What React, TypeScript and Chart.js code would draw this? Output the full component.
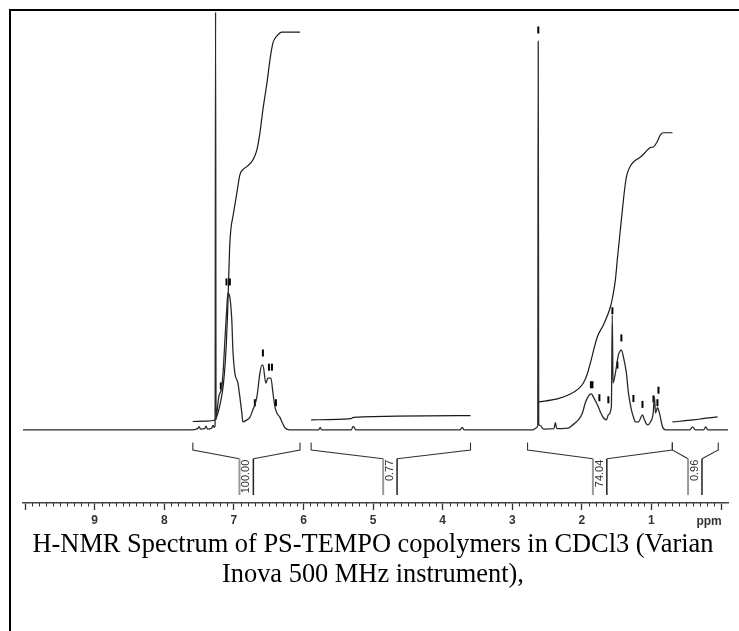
import React, { useEffect, useRef } from "react";
import { Chart, registerables } from "chart.js";

Chart.register(...registerables);

// ---- data (ppm, intensity in arbitrary units) ----
const spectrumPpm = [
  10.03, 7.62, 7.52, 7.5, 7.48, 7.42, 7.4, 7.38, 7.32, 7.3, 7.285, 7.27, 7.263, 7.256, 7.245, 7.216, 7.173, 7.15,
  7.129, 7.101, 7.086, 7.058, 7.029, 7.014, 6.986, 6.942, 6.915, 6.885, 6.871, 6.813, 6.77, 6.727, 6.669, 6.626,
  6.597, 6.583, 6.54, 6.511, 6.468, 6.439, 6.41, 6.381, 6.338, 6.309, 6.266, 6.2, 5.78, 5.76, 5.74, 5.31, 5.29,
  5.27, 5.25, 3.75, 3.72, 3.69, 2.7, 2.66, 2.634, 2.627, 2.62, 2.597, 2.55, 2.4, 2.381, 2.36, 2.2, 2.13, 2.094,
  2.05, 1.993, 1.95, 1.906, 1.863, 1.835, 1.777, 1.734, 1.691, 1.647, 1.619, 1.576, 1.563, 1.552, 1.518, 1.475,
  1.432, 1.403, 1.36, 1.331, 1.288, 1.259, 1.23, 1.187, 1.129, 1.101, 1.058, 1.014, 0.975, 0.957, 0.942, 0.914,
  0.885, 0.842, 0.799, 0.45, 0.41, 0.37, 0.25, 0.22, 0.19, -0.1,
];
const spectrumIntensity = [
  0, 0, 0.3, 0.8, 0.2, 0.3, 0.9, 0.2, 0.4, 1.1, 0.6, 1.0, 100, 2.5, 4, 8, 10.3, 15,
  21.5, 29.4, 32.8, 31.8, 26, 19, 13.6, 11.2, 8, 4, 1.9, 2.4, 3, 4.8, 7.9, 13.6,
  15.5, 15.5, 11.2, 12.4, 12.4, 8.9, 5.5, 4, 3, 1.9, 0.5, 0, 0, 0.6, 0, 0, 0.8,
  0.6, 0, 0, 0.6, 0, 0, 0.4, 1, 93, 1.5, 1.0, 0.2, 0.3, 1.7, 0.3, 0.4, 1.2, 1.7,
  2.4, 4, 6.5, 8.1, 8.6, 7.9, 6, 4.3, 2.9, 2.4, 3.6, 5.5, 27.5, 11.2, 13.6, 17.9,
  19.1, 17.5, 13.6, 8.9, 4.8, 3.1, 1.9, 1.9, 3.6, 2.4, 1.2, 1.9, 4, 7.9, 4, 5.3,
  4, 0.8, 0, 0, 0.7, 0, 0, 0.7, 0, 0,
];

const integral1Ppm = [7.59, 7.4, 7.28, 7.25, 7.2, 7.15, 7.11, 7.09, 7.075, 7.06, 7.04, 7.014, 6.957, 6.914, 6.87, 6.813, 6.727, 6.669, 6.626, 6.583, 6.525, 6.482, 6.439, 6.381, 6.309, 6.05];
const integral1Values = [2.0, 2.1, 2.3, 3, 6, 11, 20, 28, 36, 44, 48.5, 51, 56.7, 61, 62.3, 63, 64.6, 67, 71, 76.6, 83, 88.5, 92.6, 94.3, 95.2, 95.2];
const integral2Ppm = [5.89, 5.32, 5.28, 3.6];
const integral2Values = [2.4, 2.7, 3.0, 3.4];
const integral3Ppm = [2.626, 2.353, 2.165, 2.05, 1.978, 1.92, 1.878, 1.777, 1.691, 1.59, 1.561, 1.518, 1.489, 1.446, 1.403, 1.37, 1.345, 1.3, 1.259, 1.158, 1.1, 1.058, 1.01, 0.971, 0.92, 0.871, 0.827, 0.698];
const integral3Values = [6.7, 7.4, 8.6, 9.8, 11.2, 13.5, 16, 22.3, 25.1, 29.4, 31.5, 35.9, 41, 48, 55, 59.5, 61.5, 63.2, 64.1, 65.3, 66.2, 67, 67.6, 67.7, 68.9, 70.6, 71.1, 71.1];
const integral4Ppm = [0.698, 0.4, 0.3, 0.22, 0.05];
const integral4Values = [1.9, 2.4, 2.6, 2.8, 3.1];

const peakPickPpm = [7.187, 7.106, 7.058, 6.698, 6.583, 6.496, 6.453, 6.396, 2.626, 1.87, 1.848, 1.748, 1.619, 1.561, 1.489, 1.432, 1.259, 1.129, 0.971, 0.914, 0.899];
const peakPickLevel = [10.5, 35.4, 35.4, 6.5, 18.4, 15, 15, 6.5, 95.7, 10.8, 10.8, 7.7, 7.2, 28.5, 15.5, 22, 7.5, 6.1, 7.4, 6.5, 9.5];

const integralFrom = [7.59, 5.89, 2.78, 0.7];
const integralTo = [6.05, 3.6, 0.7, 0.04];
const integralCenter = [6.82, 4.755, 1.741, 0.374];
const integralLabels = ["100.00", "0.77", "74.04", "0.96"];

const majorTicks = [0, 1, 2, 3, 4, 5, 6, 7, 8, 9, 10];
const tickLabels = ["", "1", "2", "3", "4", "5", "6", "7", "8", "9", ""];
const unitLabel = "ppm";
const minorStep = 0.1;

const xMin = -0.1;
const xMax = 10.03;
const yMin = -17.5;
const yMax = 100;

const toPoints = (xs: number[], ys: number[]) => xs.map((x, i) => ({ x, y: ys[i] }));

const extrasPlugin = {
  id: "nmrExtras",
  afterDraw(chart: any) {
    const { ctx, chartArea } = chart;
    const xs = chart.scales.x;
    const ys = chart.scales.y;
    const axisY = chartArea.bottom;
    ctx.save();
    // minor ticks
    ctx.strokeStyle = "#333";
    ctx.lineWidth = 1;
    ctx.beginPath();
    for (let k = 0; k <= Math.round(xMax / minorStep); k++) {
      if (k % 10 === 0) continue;
      const px = Math.round(xs.getPixelForValue(k * minorStep)) + 0.5;
      ctx.moveTo(px, axisY);
      ctx.lineTo(px, axisY + 3.5);
    }
    ctx.stroke();

    // unit label
    ctx.fillStyle = "#333";
    ctx.font = "bold 12px 'Liberation Sans', Arial, sans-serif";
    ctx.textAlign = "center";
    ctx.textBaseline = "middle";
    ctx.fillText(unitLabel, xs.getPixelForValue(0) - 12, axisY + 19);

    // integration brackets
    const yTickTop = ys.getPixelForValue(-3.0);
    const yTickBot = ys.getPixelForValue(-4.8);
    const yArm = ys.getPixelForValue(-6.9);
    const yBottom = ys.getPixelForValue(-15.6);
    integralFrom.forEach((from, i) => {
      const xL = xs.getPixelForValue(from);
      const xR = xs.getPixelForValue(integralTo[i]);
      const xG = xs.getPixelForValue(integralCenter[i] + 0.1);
      const xB = xs.getPixelForValue(integralCenter[i] - 0.1);
      ctx.strokeStyle = "#333";
      ctx.lineWidth = 1.1;
      ctx.beginPath();
      ctx.moveTo(xL, yTickTop);
      ctx.lineTo(xL, yTickBot);
      ctx.lineTo(xG, yArm);
      ctx.moveTo(xB, yArm);
      ctx.lineTo(xR, yTickBot);
      ctx.lineTo(xR, yTickTop);
      ctx.stroke();
      ctx.strokeStyle = "#9a9a9a";
      ctx.lineWidth = 2;
      ctx.beginPath();
      ctx.moveTo(xG, yArm);
      ctx.lineTo(xG, yBottom);
      ctx.stroke();
      ctx.strokeStyle = "#222";
      ctx.lineWidth = 1.5;
      ctx.beginPath();
      ctx.moveTo(xB, yArm);
      ctx.lineTo(xB, yBottom);
      ctx.stroke();
      ctx.save();
      ctx.translate((xG + xB) / 2, yArm + 1);
      ctx.rotate(-Math.PI / 2);
      ctx.fillStyle = "#333";
      ctx.font = "11px 'Liberation Sans', Arial, sans-serif";
      ctx.textAlign = "right";
      ctx.textBaseline = "middle";
      ctx.fillText(integralLabels[i], 0, 0);
      ctx.restore();
    });
    ctx.restore();
  },
};

export default function App() {
  const ref = useRef<HTMLCanvasElement>(null);
  useEffect(() => {
    const integralStyle = {
      borderColor: "#1a1a1a",
      borderWidth: 1.2,
      pointRadius: 0,
      fill: false,
      cubicInterpolationMode: "monotone" as const,
    };
    const chart = new Chart(ref.current as HTMLCanvasElement, {
      type: "line",
      data: {
        datasets: [
          {
            label: "spectrum",
            data: toPoints(spectrumPpm, spectrumIntensity),
            borderColor: "#2a2a2a",
            borderWidth: 1.3,
            pointRadius: 0,
            fill: false,
            cubicInterpolationMode: "monotone",
          },
          { label: "integral 1", data: toPoints(integral1Ppm, integral1Values), ...integralStyle },
          { label: "integral 2", data: toPoints(integral2Ppm, integral2Values), ...integralStyle },
          { label: "integral 3", data: toPoints(integral3Ppm, integral3Values), ...integralStyle },
          { label: "integral 4", data: toPoints(integral4Ppm, integral4Values), ...integralStyle },
          {
            type: "scatter",
            label: "peaks",
            data: toPoints(peakPickPpm, peakPickLevel),
            showLine: false,
            pointStyle: "line",
            rotation: 90,
            pointRadius: 3.5,
            borderColor: "#000",
            pointBorderWidth: 2,
            borderWidth: 2,
          } as any,
        ],
      },
      options: {
        animation: false,
        responsive: false,
        devicePixelRatio: 1,
        layout: { padding: { left: 23, right: 11, top: 12, bottom: 0 } },
        plugins: { legend: { display: false }, tooltip: { enabled: false } },
        scales: {
          x: {
            type: "linear",
            reverse: true,
            min: xMin,
            max: xMax,
            afterBuildTicks: (s: any) => {
              s.ticks = majorTicks.map((v) => ({ value: v }));
            },
            afterFit: (s: any) => {
              s.height = 37;
            },
            border: { display: true, color: "#444", width: 1.5 },
            grid: { display: true, drawOnChartArea: false, drawTicks: true, tickLength: 7, tickColor: "#333", tickWidth: 1.3 },
            ticks: {
              autoSkip: false,
              maxRotation: 0,
              padding: 3,
              color: "#333",
              font: { family: "'Liberation Sans', Arial, sans-serif", size: 12, weight: "bold" },
              callback: (v: any) => {
                const idx = majorTicks.indexOf(Number(v));
                return idx >= 0 ? tickLabels[idx] : "";
              },
            },
          },
          y: { type: "linear", display: false, min: yMin, max: yMax },
        },
      },
      plugins: [extrasPlugin],
    } as any);
    return () => chart.destroy();
  }, []);

  return (
    <div style={{ position: "fixed", left: 0, top: 0, width: 739, height: 631, overflow: "hidden", background: "#fff" }}>
      <div
        style={{
          position: "absolute",
          left: 9,
          top: 9,
          width: 760,
          height: 660,
          borderLeft: "2px solid #000",
          borderTop: "2px solid #000",
        }}
      />
      <canvas ref={ref} width={739} height={540} style={{ position: "absolute", left: 0, top: 0, width: 739, height: 540 }} />
      <div
        style={{
          position: "absolute",
          left: 9,
          top: 528,
          width: 728,
          textAlign: "center",
          fontFamily: "'Liberation Serif', 'Times New Roman', serif",
          fontSize: 26.4,
          lineHeight: "30px",
          color: "#000",
          whiteSpace: "nowrap",
        }}
      >
        H-NMR Spectrum of PS-TEMPO copolymers in CDCl3 (Varian
        <br />
        Inova 500 MHz instrument),
      </div>
    </div>
  );
}
